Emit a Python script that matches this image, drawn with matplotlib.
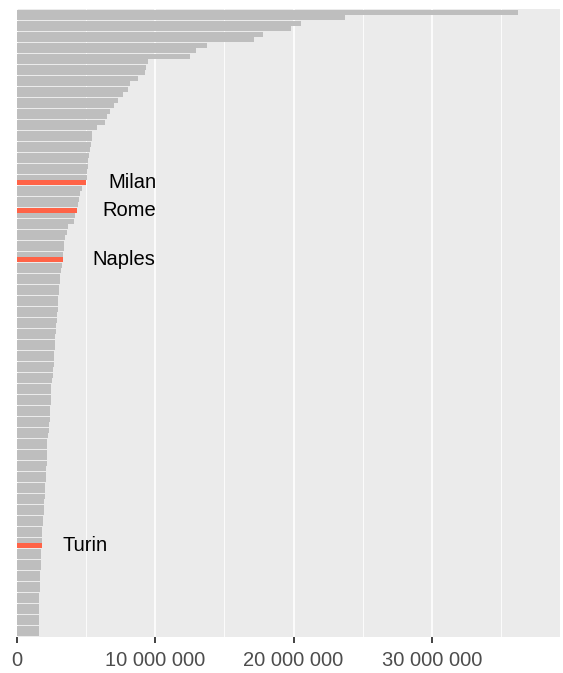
import matplotlib.pyplot as plt
from matplotlib.ticker import FuncFormatter, MultipleLocator

# population of each city in millions, sorted from largest to smallest
population_m = [
    36.23, 23.71, 20.53, 19.80, 17.78, 17.13, 13.73, 12.93, 12.50, 9.46,
    9.36, 9.24, 8.73, 8.15, 8.01, 7.65, 7.29, 7.00, 6.71, 6.49,
    6.35, 5.77, 5.41, 5.40, 5.33, 5.26, 5.19, 5.12, 5.11, 5.07,
    5.04, 4.97, 4.68, 4.54, 4.47, 4.39, 4.32, 4.17, 4.10, 3.67,
    3.60, 3.45, 3.38, 3.37, 3.36, 3.31, 3.29, 3.16, 3.09, 3.08,
    3.02, 3.01, 3.00, 2.94, 2.93, 2.87, 2.86, 2.80, 2.79, 2.78,
    2.73, 2.72, 2.66, 2.65, 2.64, 2.58, 2.57, 2.51, 2.44, 2.44,
    2.43, 2.43, 2.42, 2.42, 2.37, 2.30, 2.29, 2.22, 2.16, 2.15,
    2.15, 2.14, 2.14, 2.13, 2.08, 2.07, 2.06, 2.00, 1.99, 1.93,
    1.92, 1.92, 1.86, 1.85, 1.79, 1.79, 1.78, 1.78, 1.71, 1.71,
    1.70, 1.70, 1.64, 1.64, 1.63, 1.63, 1.62, 1.57, 1.57, 1.57,
    1.56, 1.56, 1.56, 1.56,
]

# Italian cities and their rank in the list above
italian_cities = ["Milan", "Rome", "Naples", "Turin"]
italian_rank = [31, 36, 45, 97]

x_ticks = [0, 10_000_000, 20_000_000, 30_000_000]

# gap between bar end and label (style only)
label_gap = {"Milan": 1.65e6, "Rome": 1.85e6, "Naples": 2.15e6, "Turin": 1.5e6}

FONT = ["Liberation Sans", "DejaVu Sans"]
GREY = "#BEBEBE"
HIGHLIGHT = "#FF6347"

values = [v * 1e6 for v in population_m]
colors = [GREY] * len(values)
for r in italian_rank:
    colors[r] = HIGHLIGHT

fig = plt.figure(figsize=(5.63, 6.73), dpi=100)
ax = fig.add_axes([17 / 563, 1 - 637 / 673, 543 / 563, 628 / 673])
ax.set_facecolor("#EBEBEB")

ax.barh(range(len(values)), values, height=0.9, color=colors, zorder=3)

ax.set_ylim(len(values) - 1 + 0.6, -0.6)
ax.set_xlim(0, 39.27e6)

ax.set_xticks(x_ticks)
ax.xaxis.set_minor_locator(MultipleLocator(5_000_000))
ax.xaxis.set_major_formatter(FuncFormatter(lambda x, _: f"{int(x):,}".replace(",", " ")))
ax.grid(which="major", axis="x", color="white", linewidth=1.2, zorder=0)
ax.grid(which="minor", axis="x", color="white", linewidth=0.6, zorder=0)
ax.set_axisbelow(True)

ax.tick_params(axis="x", which="major", length=4, width=1.3, color="#333333",
               labelcolor="#4D4D4D", labelsize=14.5, pad=6)
ax.tick_params(axis="x", which="minor", length=0)
ax.tick_params(axis="y", left=False, labelleft=False)
for lbl in ax.get_xticklabels():
    lbl.set_family(FONT)

for s in ax.spines.values():
    s.set_visible(False)

for name, r in zip(italian_cities, italian_rank):
    ax.text(values[r] + label_gap[name], r, name, ha="left", va="center",
            fontsize=14.5, color="black", family=FONT, zorder=4)

fig.savefig("out.png", dpi=100)
